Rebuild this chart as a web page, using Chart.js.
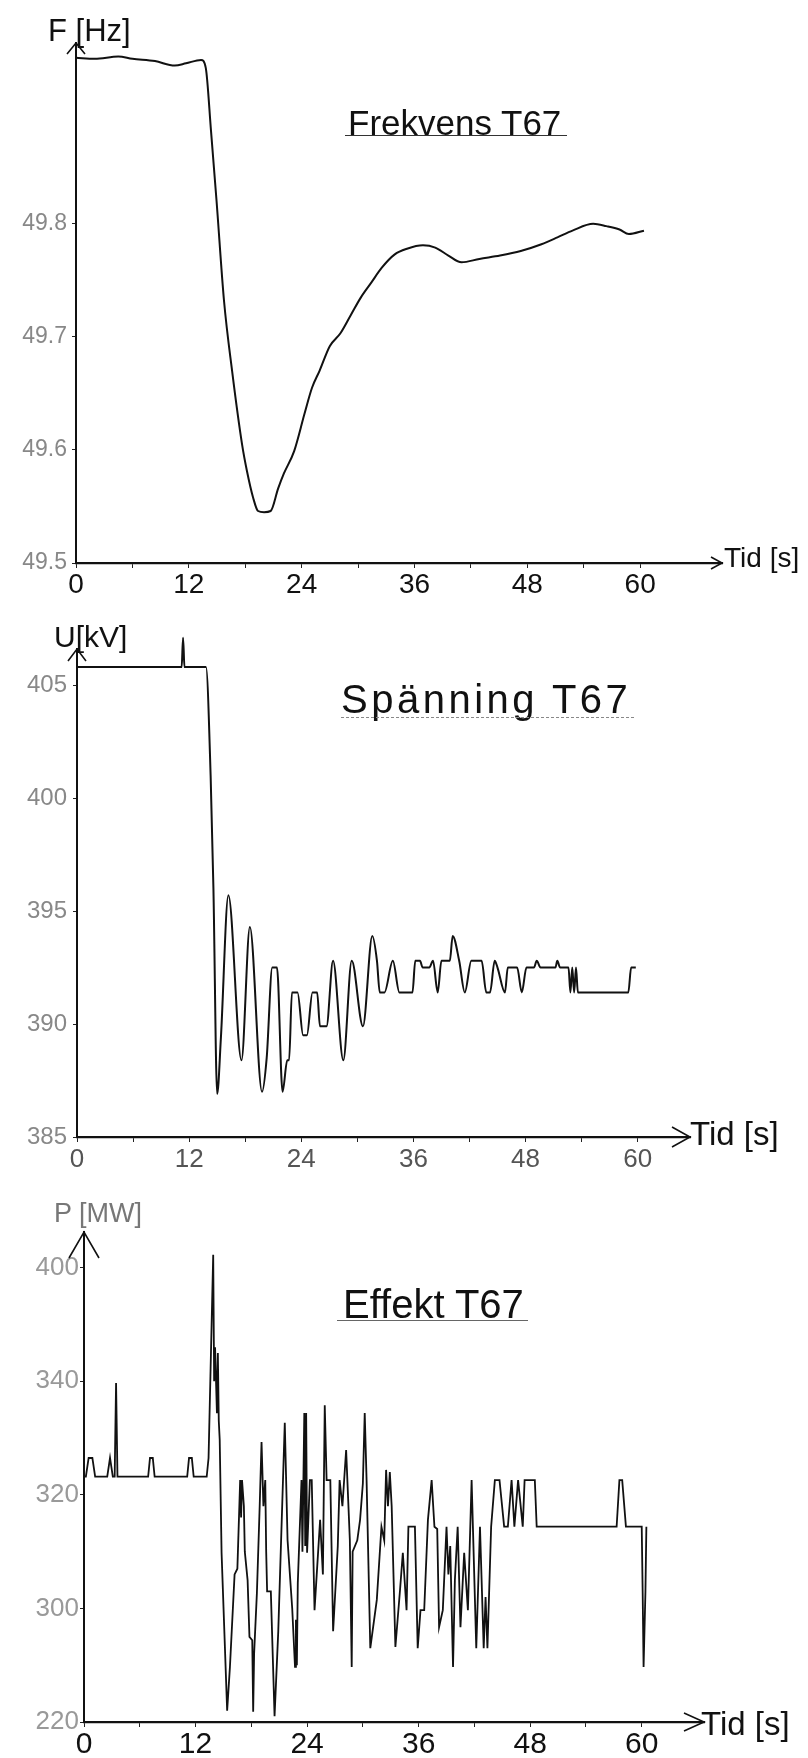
<!DOCTYPE html>
<html lang="sv">
<head>
<meta charset="UTF-8">
<title>T67</title>
<script src="https://cdn.jsdelivr.net/npm/chart.js"></script>
<style>
body{margin:0;background:#fff;}
#page{position:relative;width:808px;height:1758px;overflow:hidden;font-family:"Liberation Sans",Arial,sans-serif;}
canvas{position:absolute;left:0;}
.lbl{position:absolute;white-space:nowrap;color:#111;line-height:1;z-index:2;}
.uline{position:absolute;height:0;z-index:2;}
</style>
</head>
<body>
<div id="page">
  <canvas id="freqChart" width="808" height="605" style="top:0"></canvas>
  <canvas id="voltChart" width="808" height="565" style="top:605px"></canvas>
  <canvas id="powChart" width="808" height="588" style="top:1170px"></canvas>

  <!-- Frekvens -->
  <div class="lbl" style="left:48px;top:15px;font-size:31px;">F [Hz]</div>
  <div class="lbl" style="left:348px;top:105px;font-size:35px;">Frekvens T67</div>
  <div class="uline" style="left:345px;top:135px;width:222px;border-top:1.5px solid #333;"></div>
  <div class="lbl" style="left:724px;top:544px;font-size:28px;">Tid [s]</div>

  <!-- Spänning -->
  <div class="lbl" style="left:54px;top:622px;font-size:30px;">U[kV]</div>
  <div class="lbl" style="left:341px;top:679px;font-size:40px;letter-spacing:3.5px;">Spänning T67</div>
  <div class="uline" style="left:341px;top:717px;width:293px;border-top:1.5px dashed #888;"></div>
  <div class="lbl" style="left:690px;top:1117px;font-size:33px;">Tid [s]</div>

  <!-- Effekt -->
  <div class="lbl" style="left:54px;top:1200px;font-size:27px;color:#777;">P [MW]</div>
  <div class="lbl" style="left:343px;top:1284px;font-size:40px;">Effekt T67</div>
  <div class="uline" style="left:337px;top:1320px;width:191px;border-top:1.5px solid #666;"></div>
  <div class="lbl" style="left:701px;top:1707px;font-size:33px;">Tid [s]</div>
</div>

<script>
// time axis (s)
const xTickValues = [0, 12, 24, 36, 48, 60];
const xTickLabels = ['0', '12', '24', '36', '48', '60'];
const xAllTicks = [0, 6, 12, 18, 24, 30, 36, 42, 48, 54, 60];

// Frekvens T67 [Hz]
const freqT = [0, 2, 4.5, 6, 8.4, 10.5, 11.7, 13.3, 13.8,
  14.36, 14.95, 15.74, 16.6, 17.66, 18.19, 18.83, 19.36, 20.0,
  20.7, 21.5, 22.1, 23.2, 24.3, 25.1, 25.9, 27.0, 28.1, 29.2,
  30.3, 31.4, 32.5, 33.9, 35.2, 36.9, 38.2, 39.6, 41.0, 42.9,
  45.1, 47.3, 49.5, 51.2, 52.8, 55.0, 56.4, 57.8, 58.8, 60.4];
const freqHz = [49.947, 49.946, 49.948, 49.946, 49.944, 49.940, 49.942, 49.945, 49.938,
  49.882, 49.820, 49.732, 49.670, 49.605, 49.581, 49.558, 49.546, 49.545,
  49.546, 49.566, 49.579, 49.599, 49.632, 49.655, 49.670, 49.692, 49.703, 49.719,
  49.735, 49.748, 49.761, 49.773, 49.778, 49.781, 49.779, 49.772, 49.766, 49.769,
  49.772, 49.776, 49.782, 49.788, 49.794, 49.800, 49.798, 49.795, 49.791, 49.794];
const freqYTicks = [49.5, 49.6, 49.7, 49.8];
const freqYLabels = ['49.5', '49.6', '49.7', '49.8'];

// Spänning T67 [kV]
const voltT = [0, 11.2, 11.35, 11.5, 13.8, 14.3, 14.6, 15.0, 15.4, 16.2,
  17.6, 18.5, 19.8, 20.3, 20.9, 21.4, 22.0, 22.5, 22.7, 23.0,
  23.6, 24.2, 24.6, 25.2, 25.7, 26.0, 26.7, 27.4, 28.5, 29.4,
  30.6, 31.6, 32.1, 32.4, 32.9, 33.8, 34.5, 35.9, 36.2, 36.7,
  37.0, 37.7, 38.1, 38.6, 39.0, 39.9, 40.2, 40.9, 41.5, 42.2,
  43.3, 43.8, 44.2, 44.7, 45.0, 45.8, 46.1, 47.1, 47.6, 48.1,
  48.9, 49.2, 49.6, 51.2, 51.4, 51.7, 52.6, 52.8, 53.0, 53.2,
  53.4, 53.6, 59.0, 59.3, 59.8];
const voltKV = [405.8, 405.8, 407.1, 405.8, 405.8, 401, 396, 386.9, 389.4, 395.7,
  388.4, 394.3, 387.0, 388.5, 392.5, 392.5, 387.0, 388.4, 388.4, 391.4,
  391.4, 389.5, 389.5, 391.4, 391.4, 389.9, 389.9, 392.8, 388.4, 392.8,
  389.9, 393.9, 392.8, 391.4, 391.4, 392.8, 391.4, 391.4, 392.8, 392.8,
  392.5, 392.5, 392.8, 391.4, 392.8, 392.8, 393.9, 392.8, 391.4, 392.8,
  392.8, 391.4, 391.4, 392.8, 392.5, 391.4, 392.5, 392.5, 391.4, 392.5,
  392.5, 392.8, 392.5, 392.5, 392.8, 392.5, 392.5, 391.4, 392.5, 391.4,
  392.5, 391.4, 391.4, 392.5, 392.5];
const voltYTicks = [385, 390, 395, 400, 405];
const voltYLabels = ['385', '390', '395', '400', '405'];

// Effekt T67 [MW] (axis as drawn: equally spaced marks)
const powT = [0, 0.2, 0.5, 0.9, 1.2, 2.5, 2.8, 3.1, 3.3, 3.45,
  3.6, 6.9, 7.1, 7.4, 7.6, 11.1, 11.3, 11.6, 11.8, 13.2,
  13.4, 13.9, 14.0, 14.1, 14.3, 14.4, 14.5, 14.6, 14.8, 15.4,
  15.7, 16.2, 16.5, 16.8, 16.9, 17.0, 17.2, 17.3, 17.6, 17.8,
  18.1, 18.2, 18.3, 18.6, 18.9, 19.1, 19.3, 19.5, 19.6, 19.7,
  20.1, 20.5, 20.9, 21.6, 21.9, 22.4, 22.7, 22.8, 22.9, 23.0,
  23.4, 23.5, 23.7, 23.8, 23.9, 24.0, 24.3, 24.5, 24.8, 25.4,
  25.7, 25.9, 26.1, 26.5, 26.8, 27.3, 27.5, 27.8, 28.2, 28.6,
  28.8, 28.9, 29.4, 29.7, 30.0, 30.2, 30.4, 30.8, 31.5, 32.0,
  32.3, 32.5, 32.7, 32.9, 33.1, 33.5, 34.0, 34.3, 34.7, 34.9,
  35.6, 35.9, 36.2, 36.6, 37.0, 37.4, 37.7, 38.0, 38.2, 38.6,
  39.0, 39.2, 39.4, 39.7, 39.9, 40.2, 40.5, 40.9, 41.3, 41.7,
  42.2, 42.6, 43.0, 43.2, 43.4, 43.8, 44.2, 44.7, 45.2, 45.6,
  46.0, 46.3, 46.7, 47.2, 47.4, 48.5, 48.7, 57.3, 57.6, 57.9,
  58.3, 60.0, 60.1, 60.2, 60.4, 60.5];
const powMW = [323.2, 323.2, 326.5, 326.5, 323.2, 323.2, 326.5, 323.2, 323.2, 339.7,
  323.2, 323.2, 326.5, 326.5, 323.2, 323.2, 326.5, 326.5, 323.2, 323.2,
  326.5, 362.3, 340, 346, 334.4, 345, 333, 329.7, 309.8, 282,
  289.7, 306, 307, 322.6, 316, 322.6, 318, 310, 305, 295,
  294.4, 281.8, 292, 302.7, 318, 329.3, 318, 322.6, 310, 303,
  303, 281, 296, 332.7, 312, 300, 289.7, 298, 290, 304.5,
  322.6, 310, 334.4, 311, 334.4, 309.8, 322.6, 322.6, 299.7, 315.6,
  306, 335.8, 322.6, 322.6, 296, 310.9, 322.6, 318, 327.9, 312,
  289.7, 310, 312, 315.6, 322, 334.4, 322.6, 293, 301.5, 314.4,
  312, 324.4, 318, 324, 318, 293.2, 303.3, 309.8, 299.7, 314.4,
  314.4, 293, 299.7, 299.7, 315.6, 322.6, 314.4, 314, 296.7, 299.7,
  314.4, 306, 311, 289.7, 305, 314.4, 296.7, 309.8, 299.7, 322.6,
  293, 314.4, 293, 302, 293, 314.4, 322.6, 322.6, 314.4, 314.4,
  322.6, 314.4, 322.6, 314.4, 322.6, 322.6, 314.4, 314.4, 322.6, 322.6,
  314.4, 314.4, 303, 289.7, 303, 314.4];
const powYTicks = [280, 300, 320, 340, 360];
const powYLabels = ['220', '300', '320', '340', '400'];

// hand drawn style arrow heads on the axes
const arrowPlugin = {
  id: 'arrows',
  afterDraw(chart, args, opts){
    const {ctx, chartArea: a} = chart;
    ctx.save();
    ctx.strokeStyle = '#111';
    ctx.lineWidth = 1.6;
    ctx.beginPath();
    ctx.moveTo(a.left - opts.yw, a.top + opts.yh);
    ctx.lineTo(a.left, a.top);
    ctx.lineTo(a.left + opts.yw, a.top + opts.yh);
    ctx.moveTo(a.right - opts.xh, a.bottom - opts.xw);
    ctx.lineTo(a.right, a.bottom);
    ctx.lineTo(a.right - opts.xh, a.bottom + opts.xw);
    ctx.stroke();
    ctx.restore();
  }
};

const FONT = '"Liberation Sans", Arial, sans-serif';

function makeChart(id, c){
  return new Chart(document.getElementById(id), {
    type: 'line',
    data: {
      datasets: [{
        data: c.t.map((t, i) => ({x: t, y: c.v[i]})),
        borderColor: '#111',
        borderWidth: c.lw,
        pointRadius: 0,
        tension: c.tension,
        cubicInterpolationMode: c.mono ? 'monotone' : 'default',
        fill: false,
        clip: false
      }]
    },
    options: {
      responsive: false,
      animation: false,
      events: [],
      layout: {padding: {top: c.padTop, right: c.padRight, left: 0, bottom: 0}},
      plugins: {legend: {display: false}, tooltip: {enabled: false}, arrows: c.arrows},
      scales: {
        x: {
          type: 'linear', min: 0, max: c.xMax,
          afterBuildTicks: s => { s.ticks = xAllTicks.map(v => ({value: v})); },
          afterFit: s => { s.height = c.xH; },
          ticks: {
            autoSkip: false, maxRotation: 0, padding: c.xPad, color: c.xColor,
            font: {family: FONT, size: c.xSize},
            callback: v => { const i = xTickValues.indexOf(v); return i < 0 ? '' : xTickLabels[i]; }
          },
          grid: {drawOnChartArea: false, tickLength: 5, color: '#222', lineWidth: 1},
          border: {color: '#111', width: 2.2}
        },
        y: {
          type: 'linear', min: c.yMin, max: c.yMax,
          afterBuildTicks: s => { s.ticks = c.yTicks.map(v => ({value: v})); },
          afterFit: s => { s.width = c.yW; },
          ticks: {
            padding: c.yPad, color: c.yColor,
            font: {family: FONT, size: c.ySize},
            callback: (v, i) => c.yLabels[i]
          },
          grid: {drawOnChartArea: false, tickLength: 4, color: '#222', lineWidth: 1},
          border: {color: '#111', width: 2}
        }
      }
    },
    plugins: [arrowPlugin]
  });
}

makeChart('freqChart', {
  t: freqT, v: freqHz, lw: 2, tension: 0.3, mono: true,
  padTop: 43, padRight: 86, xMax: 68.7, xH: 42, xPad: 0, xSize: 28, xColor: '#111',
  yMin: 49.5, yMax: 49.96, yTicks: freqYTicks, yLabels: freqYLabels, yW: 76, yPad: 5, ySize: 23, yColor: '#888',
  arrows: {yw: 9, yh: 11, xw: 6, xh: 11}
});

makeChart('voltChart', {
  t: voltT, v: voltKV, lw: 2, tension: 0.3, mono: true,
  padTop: 44, padRight: 118, xMax: 65.6, xH: 33, xPad: 2, xSize: 26, xColor: '#555',
  yMin: 385, yMax: 406.6, yTicks: voltYTicks, yLabels: voltYLabels, yW: 77, yPad: 6, ySize: 24, yColor: '#888',
  arrows: {yw: 9, yh: 12, xw: 10, xh: 18}
});

makeChart('powChart', {
  t: powT, v: powMW, lw: 1.8, tension: 0, mono: false,
  padTop: 62, padRight: 104, xMax: 66.7, xH: 36, xPad: 0, xSize: 30, xColor: '#111',
  yMin: 280, yMax: 366.3, yTicks: powYTicks, yLabels: powYLabels, yW: 84, yPad: 1, ySize: 26, yColor: '#999',
  arrows: {yw: 15, yh: 26, xw: 9, xh: 20}
});
</script>
</body>
</html>
